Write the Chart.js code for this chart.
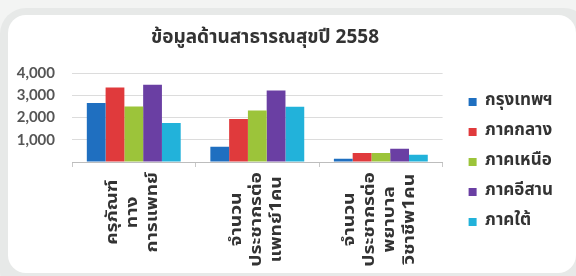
<!DOCTYPE html>
<html>
<head>
<meta charset="utf-8">
<script src="https://cdn.jsdelivr.net/npm/chart.js@4.4.0/dist/chart.umd.min.js"></script>
<style>
  html, body { margin: 0; padding: 0; }
  body { width: 576px; height: 276px; background: #f3f4f3; position: relative; overflow: hidden; }
  .frame { position: absolute; left: 0; top: 8px; width: 590px; height: 290px; background: #e7e9e8; border-radius: 26px; }
  .card { position: absolute; left: 8px; top: 15px; width: 568px; height: 258px; background: #fff; border-radius: 18px; }
  #chart { position: absolute; left: 0; top: 0; }
</style>
</head>
<body>
<div class="frame"></div>
<div class="card"></div>
<canvas id="chart" width="576" height="276"></canvas>
<script>
const title = "ข้อมูลด้านสาธารณสุขปี 2558";

// each category label is split into the lines shown under the axis
const categories = [
  ["ครุภัณฑ์", "ทาง", "การแพทย์"],
  ["จำนวน", "ประชากรต่อ", "แพทย์1คน"],
  ["จำนวน", "ประชากรต่อ", "พยาบาล", "วิชาชีพ1คน"],
];
const regions = ["กรุงเทพฯ", "ภาคกลาง", "ภาคเหนือ", "ภาคอีสาน", "ภาคใต้"];

const bangkok = [2650, 680, 150];
const central = [3350, 1930, 400];
const north = [2500, 2320, 400];
const northeast = [3470, 3210, 590];
const south = [1750, 2480, 330];

const yTicks = ["", "1,000", "2,000", "3,000", "4,000"];

const series = [bangkok, central, north, northeast, south];
const colors = ["#1f6fc0", "#e03a3c", "#9cc43a", "#6a3fa3", "#22b2da"];
const thaiFont = "'Noto Sans Thai', 'Loma', 'Garuda', 'Tahoma', sans-serif";

const drawLabels = {
  id: "drawLabels",
  afterDraw(chart) {
    const ctx = chart.ctx;
    const x = chart.scales.x;
    ctx.save();
    ctx.fillStyle = "#333";
    ctx.textAlign = "center";
    ctx.textBaseline = "middle";
    ctx.font = "bold 19px " + thaiFont;
    ctx.fillText(title, 265, 39);

    // category labels: rotated, centred lines, a bit stretched like the original
    const stretch = 1.2;
    ctx.font = "bold 16px " + thaiFont;
    categories.forEach((lines, i) => {
      const cx = x.getPixelForTick(i);
      const widest = Math.max(...lines.map((l) => ctx.measureText(l).width)) * stretch;
      const cy = x.top + 10 + widest / 2;
      lines.forEach((line, j) => {
        ctx.save();
        ctx.translate(cx + (j - (lines.length - 1) / 2) * 20, cy);
        ctx.rotate(-Math.PI / 2);
        ctx.scale(stretch, 1);
        ctx.fillText(line, 0, 0);
        ctx.restore();
      });
    });
    ctx.restore();
  },
};

new Chart(document.getElementById("chart"), {
  type: "bar",
  data: {
    labels: categories.map((c) => c.join("")),
    datasets: regions.map((name, i) => ({
      label: name,
      data: series[i],
      backgroundColor: colors[i],
      borderWidth: 0,
    })),
  },
  options: {
    responsive: false,
    animation: false,
    layout: { padding: { top: 73, bottom: 25, left: 10, right: 13 } },
    datasets: { bar: { barPercentage: 1, categoryPercentage: 0.76 } },
    plugins: {
      legend: {
        position: "right",
        maxWidth: 200,
        labels: {
          boxWidth: 8,
          boxHeight: 8,
          padding: 13,
          color: "#333",
          font: { family: thaiFont, size: 17, weight: "bold" },
        },
      },
      tooltip: { enabled: false },
    },
    scales: {
      x: {
        grid: { drawOnChartArea: false, tickLength: 5, color: "#c8c8c8" },
        border: { color: "#bdbdbd" },
        ticks: { display: false },
        afterFit: (s) => {
          s.height = 89;
        },
      },
      y: {
        min: 0,
        max: 4000,
        ticks: {
          stepSize: 1000,
          padding: 17,
          color: "#555",
          font: { family: "Lato", size: 15, weight: "bold" },
          callback: (v, i) => yTicks[i],
        },
        grid: { color: "#dcdcdc", drawTicks: false },
        border: { display: false },
        afterFit: (s) => {
          s.width = 62;
        },
      },
      // empty axis, only there to leave a gap before the legend
      gap: {
        position: "right",
        grid: { display: false },
        ticks: { display: false },
        border: { display: false },
        afterFit: (s) => {
          s.width = 13;
        },
      },
    },
  },
  plugins: [drawLabels],
});
</script>
</body>
</html>
